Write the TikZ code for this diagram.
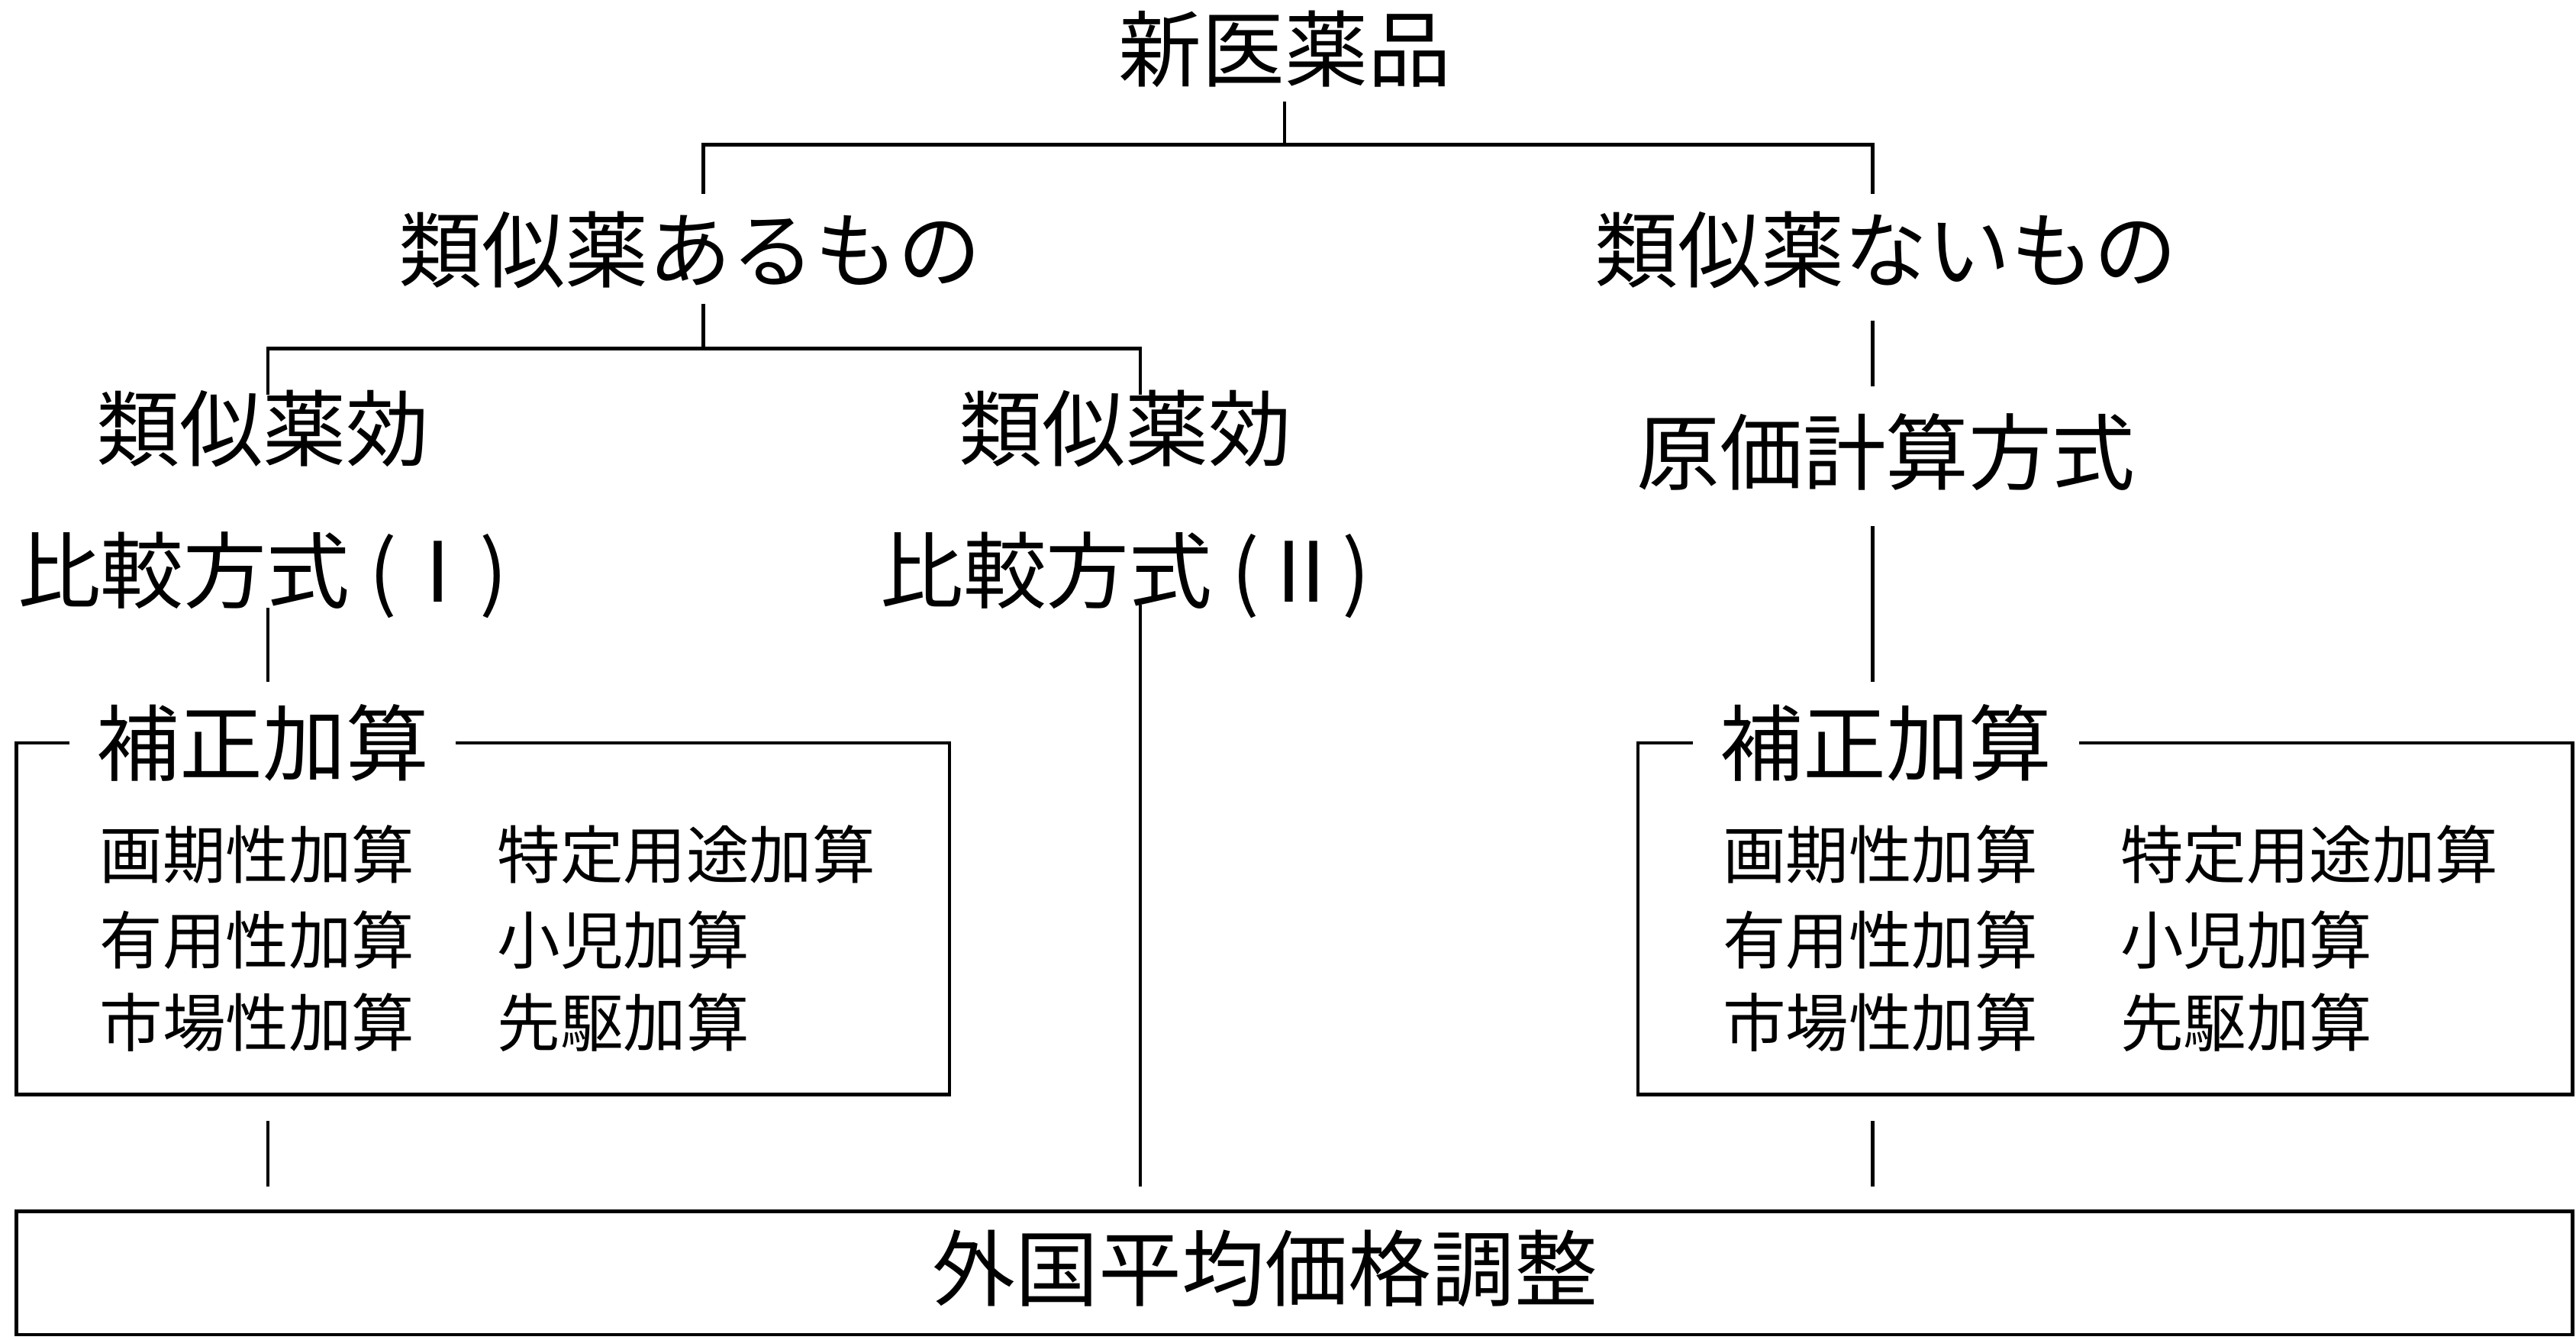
\documentclass[tikz,border=0pt]{standalone}
\usepackage{fontspec}
\setmainfont{Noto Sans CJK JP}
\usetikzlibrary{positioning}
\tikzset{
  big/.style={font=\fontsize{31}{38}\selectfont,inner sep=2pt,align=center},
  small/.style={font=\fontsize{23.5}{28}\selectfont,inner sep=1pt,anchor=west},
  ln/.style={line width=1.3pt},
}
\begin{document}
\begin{tikzpicture}[x=0.021524cm,y=-0.021524cm,ln]
\useasboundingbox (0,0) rectangle (1568,815);
% top levels
\node[big] (top) at (782,30) {新医薬品};
\node[big] (ari) at (420,152) {類似薬あるもの};
\node[big] (nai) at (1148,152) {類似薬ないもの};
\node[big,font=\fontsize{31}{53}\selectfont] (hi1) at (160,307) {類似薬効\\比較方式 (Ⅰ)};
\node[big,font=\fontsize{31}{53}\selectfont] (hi2) at (685,307) {類似薬効\\比較方式 (Ⅱ)};
\node[big] (gen) at (1148,275) {原価計算方式};
\coordinate (j1) at (782,88);
\coordinate (j2) at (428,212);
\draw (782,62) -- (j1);
\draw (428,118) |- (j1) -| (1140,118);
\draw (428,185) -- (j2);
\draw (163,240) |- (j2) -| (694,240);
\draw (1140,195) -- (1140,235);
% boxes
\draw (10,452) rectangle (578,666);
\draw (997,452) rectangle (1566,666);
\node[big,fill=white,inner xsep=10pt] (hoL) at (160,452) {補正加算};
\node[big,fill=white,inner xsep=10pt] (hoR) at (1148,452) {補正加算};
\foreach \x/\s in {0/L,988/R}{
  \node[small] at (58+\x,520) {画期性加算};
  \node[small] at (58+\x,572) {有用性加算};
  \node[small] at (58+\x,622) {市場性加算};
  \node[small] at (300+\x,520) {特定用途加算};
  \node[small] at (300+\x,572) {小児加算};
  \node[small] at (300+\x,622) {先駆加算};
}
\draw (163,370) -- (163,415);
\draw (1140,320) -- (1140,415);
\draw (694,368) -- (694,722);
\draw (163,682) -- (163,722);
\draw (1140,682) -- (1140,722);
% bottom
\draw (10,737) rectangle (1566,812);
\node[big] (gai) at (770,772) {外国平均価格調整};
\end{tikzpicture}
\end{document}
